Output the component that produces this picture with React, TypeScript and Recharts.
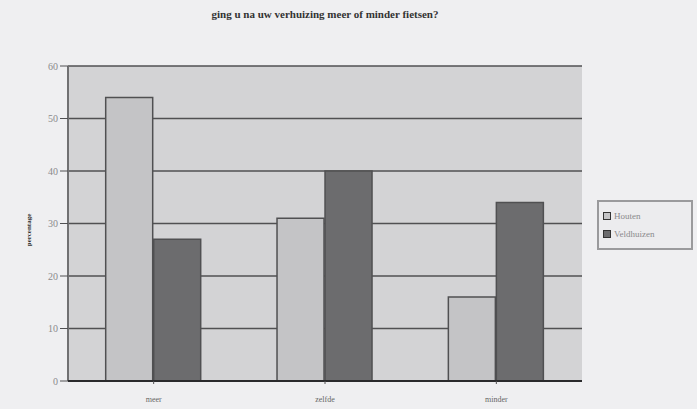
import { BarChart, Bar, XAxis, YAxis, CartesianGrid } from 'recharts';

const categories = ['meer', 'zelfde', 'minder'];
const houten = [54, 31, 16];
const veldhuizen = [27, 40, 34];
const yTicks = [0, 10, 20, 30, 40, 50, 60];

const data = categories.map((c, i) => ({ name: c, Houten: houten[i], Veldhuizen: veldhuizen[i] }));

const serif = '"Liberation Serif", "DejaVu Serif", serif';

function LegendBox() {
  const items = [
    { label: 'Houten', color: '#c4c4c6' },
    { label: 'Veldhuizen', color: '#6c6c6e' },
  ];
  return (
    <div
      style={{
        position: 'absolute',
        left: 597,
        top: 200,
        border: '2px solid #9a9a9c',
        background: '#ececee',
        width: 88,
        padding: '5px 0 5px 4px',
        fontFamily: serif,
        fontSize: 9,
        color: '#8a8a8c',
      }}
    >
      {items.map((it) => (
        <div key={it.label} style={{ display: 'flex', alignItems: 'center', height: 18 }}>
          <span style={{ width: 6, height: 6, background: it.color, border: '1px solid #333', marginRight: 3 }} />
          {it.label}
        </div>
      ))}
    </div>
  );
}

export default function App() {
  return (
    <div style={{ position: 'absolute', left: 0, top: 0, width: 697, height: 409, background: '#efeff1' }}>
      <div
        style={{
          position: 'absolute',
          left: 0,
          width: 650,
          top: 8,
          textAlign: 'center',
          fontFamily: serif,
          fontWeight: 'bold',
          fontSize: 11,
          color: '#333',
        }}
      >
        ging u na uw verhuizing meer of minder fietsen?
      </div>
      <BarChart
        width={697}
        height={409}
        data={data}
        margin={{ top: 66, right: 115, bottom: 0, left: 0 }}
        barCategoryGap="22%"
        barGap={1}
      >
        <CartesianGrid vertical={false} fill="#d3d3d5" stroke="#505052" strokeWidth={1.5} />
        <YAxis
          width={68}
          domain={[0, 60]}
          ticks={yTicks}
          interval={0}
          axisLine={{ stroke: '#707072', strokeWidth: 2 }}
          tickLine={{ stroke: '#505052' }}
          tickSize={8}
          tick={{ fontFamily: serif, fontSize: 10, fill: '#8a8a8c' }}
          label={{
            content: () => (
              <text
                x={31}
                y={230}
                transform="rotate(-90 31 230)"
                textAnchor="middle"
                fontFamily={serif}
                fontSize={7}
                fontWeight="bold"
                fill="#333"
              >
                percentage
              </text>
            ),
          }}
        />
        <XAxis
          dataKey="name"
          height={28}
          axisLine={{ stroke: '#2a2a2c', strokeWidth: 2 }}
          tickLine={{ stroke: '#505052' }}
          tickSize={3}
          tickMargin={12}
          tick={{ fontFamily: serif, fontSize: 8, fill: '#666' }}
        />
        <Bar dataKey="Houten" fill="#c4c4c6" stroke="#505052" strokeWidth={1.5} isAnimationActive={false} />
        <Bar dataKey="Veldhuizen" fill="#6c6c6e" stroke="#505052" strokeWidth={1.5} isAnimationActive={false} />
      </BarChart>
      <LegendBox />
    </div>
  );
}
